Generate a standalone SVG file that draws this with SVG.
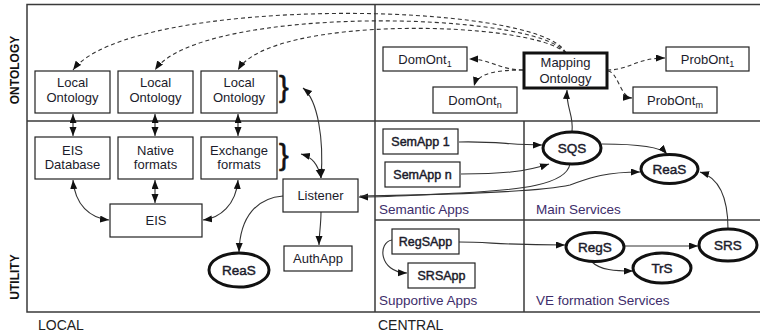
<svg xmlns="http://www.w3.org/2000/svg" width="760" height="335" viewBox="0 0 760 335">
  <style>
    text { font-family: "Liberation Sans", Arial, sans-serif; fill: #1b1b2b; }
    .lbl { font-size: 13px; text-anchor: middle; }
    .svc { font-size: 13.5px; text-anchor: middle; stroke: #1b1b2b; stroke-width: 0.45; }
    .app { font-size: 12.5px; text-anchor: middle; stroke: #1b1b2b; stroke-width: 0.45; }
    .area { font-size: 13.5px; fill: #3d2d6b; }
    .axis { font-size: 12px; font-weight: bold; fill: #111; text-anchor: middle; }
    .side { font-size: 14px; fill: #222; }
    .brace { font-size: 29px; fill: #111; stroke: #111; stroke-width: 0.6; }
    .box { fill: #fff; stroke: #222; stroke-width: 1.2; }
    .thickbox { fill: #fff; stroke: #111; stroke-width: 3; }
    .oval { fill: #fff; stroke: #111; stroke-width: 3; }
    .frame { stroke: #3a3a3a; stroke-width: 1.5; fill: none; }
    .edge { fill: none; stroke: #333; stroke-width: 1.1; marker-end: url(#arr); }
    .both { marker-start: url(#arrs); }
    .dash { stroke-dasharray: 4 3; }
  </style>
  <defs>
    <marker id="arr" markerUnits="userSpaceOnUse" markerWidth="10" markerHeight="8" refX="9" refY="3.5" orient="auto">
      <path d="M0,0 L9,3.5 L0,7 z" fill="#111"/>
    </marker>
    <marker id="arrs" markerUnits="userSpaceOnUse" markerWidth="10" markerHeight="8" refX="9" refY="3.5" orient="auto-start-reverse">
      <path d="M0,0 L9,3.5 L0,7 z" fill="#111"/>
    </marker>
  </defs>

  <!-- quadrant frame -->
  <g id="frame">
    <path class="frame" d="M760,4.5 H27 V312 H760"/>
    <path class="frame" d="M375,4.5 V312"/>
    <path class="frame" d="M27,121 H760"/>
    <path class="frame" d="M524,121 V312"/>
    <path class="frame" d="M375,220 H760"/>
  </g>

  <!-- axis labels -->
  <g id="axes">
    <text class="axis" transform="translate(19,70) rotate(-90)">ONTOLOGY</text>
    <text class="axis" transform="translate(19,277) rotate(-90)">UTILITY</text>
    <text class="side" x="38" y="330">LOCAL</text>
    <text class="side" x="378" y="330">CENTRAL</text>
    <text class="area" x="379" y="214">Semantic Apps</text>
    <text class="area" x="536" y="214">Main Services</text>
    <text class="area" x="379" y="305">Supportive Apps</text>
    <text class="area" x="536" y="305">VE formation Services</text>
  </g>

  <!-- connectors -->
  <g id="connectors">
    <!-- mapping ontology to local ontologies -->
    <path class="edge dash" d="M566,53 C540,0 130,-5 73,70"/>
    <path class="edge dash" d="M566,53 C535,10 200,5 155,70"/>
    <path class="edge dash" d="M566,53 C530,20 270,15 238,70"/>
    <!-- mapping ontology to domain / problem ontologies -->
    <path class="edge dash" d="M523,70 C500,70 490,59 469,59"/>
    <path class="edge dash" d="M523,70 C500,70 478,72 474,86"/>
    <path class="edge dash" d="M607,70 C630,70 636,58 665,58"/>
    <path class="edge dash" d="M608,71 C618,72 620,97 632,98"/>
    <!-- central services -->
    <path class="edge" d="M572,132 C574,115 566,108 567,90"/>
    <path class="edge" d="M459,142 C495,141 510,145 542,145"/>
    <path class="edge" d="M461,174 C500,174 525,172 549,164"/>
    <path class="edge" d="M570,164 C566,185 520,190 460,193 S390,197 359,197"/>
    <path class="edge" d="M360,196 C430,195 540,192 570,185 C585,180 600,172 640,172"/>
    <path class="edge" d="M602,144 C635,144 660,146 667,154"/>
    <path class="edge" d="M728,229 C728,200 720,178 700,172"/>
    <path class="edge" d="M459,242 C490,242 500,245 565,245"/>
    <path class="edge" d="M392,240 C378,242 378,272 407,273"/>
    <path class="edge" d="M624,246 L698,246"/>
    <path class="edge" d="M592,262 C600,270 615,271 633,271"/>
    <!-- local side -->
    <path class="edge both" d="M73,114 V136"/>
    <path class="edge both" d="M155,114 V136"/>
    <path class="edge both" d="M238,114 V136"/>
    <path class="edge both" d="M73,180 C75,205 90,218 109,220"/>
    <path class="edge both" d="M155,180 V203"/>
    <path class="edge both" d="M238,180 C236,205 220,218 203,220"/>
    <path class="edge both" d="M303,88 C318,100 324,140 321,178"/>
    <path class="edge both" d="M301,154 C312,157 318,164 321,178"/>
    <path class="edge" d="M283,196 C258,198 240,215 239,252"/>
    <path class="edge" d="M321,212 C321,225 319,235 319,245"/>
  </g>

  <!-- local ontology layer -->
  <g id="local-ontology-1">
    <rect class="box" x="35" y="71" width="75" height="42"/>
    <text class="lbl" x="72.5" y="87">Local</text>
    <text class="lbl" x="72.5" y="102">Ontology</text>
  </g>
  <g id="local-ontology-2">
    <rect class="box" x="118" y="71" width="75" height="42"/>
    <text class="lbl" x="155.5" y="87">Local</text>
    <text class="lbl" x="155.5" y="102">Ontology</text>
  </g>
  <g id="local-ontology-3">
    <rect class="box" x="201" y="71" width="76" height="42"/>
    <text class="lbl" x="239" y="87">Local</text>
    <text class="lbl" x="239" y="102">Ontology</text>
  </g>
  <text class="brace" x="279" y="97">}</text>

  <!-- local data layer -->
  <g id="eis-database">
    <rect class="box" x="35" y="137" width="75" height="42"/>
    <text class="lbl" x="72.5" y="155">EIS</text>
    <text class="lbl" x="72.5" y="169">Database</text>
  </g>
  <g id="native-formats">
    <rect class="box" x="118" y="137" width="75" height="42"/>
    <text class="lbl" x="155.5" y="155">Native</text>
    <text class="lbl" x="155.5" y="169">formats</text>
  </g>
  <g id="exchange-formats">
    <rect class="box" x="201" y="137" width="76" height="42"/>
    <text class="lbl" x="239" y="155">Exchange</text>
    <text class="lbl" x="239" y="169">formats</text>
  </g>
  <text class="brace" x="279" y="165">}</text>

  <g id="eis">
    <rect class="box" x="110" y="204" width="92" height="33"/>
    <text class="lbl" x="156" y="225">EIS</text>
  </g>
  <g id="listener">
    <rect class="box" x="283" y="179" width="75" height="33"/>
    <text class="lbl" x="320.5" y="200">Listener</text>
  </g>
  <g id="authapp">
    <rect class="box" x="284" y="246" width="68" height="25"/>
    <text class="lbl" x="318" y="263">AuthApp</text>
  </g>
  <g id="reas-local">
    <ellipse class="oval" cx="239" cy="270" rx="30" ry="17"/>
    <text class="svc" x="239" y="275">ReaS</text>
  </g>

  <!-- central ontology layer -->
  <g id="mapping-ontology">
    <rect class="thickbox" x="524" y="53" width="83" height="35"/>
    <text class="lbl" x="565.5" y="67">Mapping</text>
    <text class="lbl" x="565.5" y="83">Ontology</text>
  </g>
  <g id="domont-1">
    <rect class="box" x="383" y="47" width="84" height="24"/>
    <text class="lbl" x="425" y="64">DomOnt<tspan font-size="9" dy="3">1</tspan></text>
  </g>
  <g id="domont-n">
    <rect class="box" x="433" y="87" width="84" height="26"/>
    <text class="lbl" x="475" y="105">DomOnt<tspan font-size="9" dy="3">n</tspan></text>
  </g>
  <g id="probont-1">
    <rect class="box" x="666" y="47" width="83" height="24"/>
    <text class="lbl" x="707.5" y="64">ProbOnt<tspan font-size="9" dy="3">1</tspan></text>
  </g>
  <g id="probont-m">
    <rect class="box" x="633" y="87" width="84" height="26"/>
    <text class="lbl" x="675" y="105">ProbOnt<tspan font-size="9" dy="3">m</tspan></text>
  </g>

  <!-- semantic apps -->
  <g id="semapp-1">
    <rect class="box" x="383" y="129" width="75" height="25"/>
    <text class="app" x="420.5" y="146">SemApp 1</text>
  </g>
  <g id="semapp-n">
    <rect class="box" x="385" y="162" width="75" height="25"/>
    <text class="app" x="422.5" y="179">SemApp n</text>
  </g>

  <!-- main services -->
  <g id="sqs">
    <ellipse class="oval" cx="572" cy="148" rx="29" ry="16"/>
    <text class="svc" x="572" y="153">SQS</text>
  </g>
  <g id="reas-central">
    <ellipse class="oval" cx="669.5" cy="169" rx="28.5" ry="14.5"/>
    <text class="svc" x="669.5" y="174">ReaS</text>
  </g>

  <!-- supportive apps -->
  <g id="regsapp">
    <rect class="box" x="392" y="229" width="67" height="25"/>
    <text class="app" x="425.5" y="246">RegSApp</text>
  </g>
  <g id="srsapp">
    <rect class="box" x="408" y="263" width="67" height="25"/>
    <text class="app" x="441.5" y="280">SRSApp</text>
  </g>

  <!-- VE formation services -->
  <g id="regs">
    <ellipse class="oval" cx="595" cy="247" rx="29" ry="14.5"/>
    <text class="svc" x="595" y="252">RegS</text>
  </g>
  <g id="trs">
    <ellipse class="oval" cx="662" cy="268" rx="29" ry="15"/>
    <text class="svc" x="662" y="273">TrS</text>
  </g>
  <g id="srs">
    <ellipse class="oval" cx="728" cy="245" rx="29" ry="16"/>
    <text class="svc" x="728" y="250">SRS</text>
  </g>
</svg>
